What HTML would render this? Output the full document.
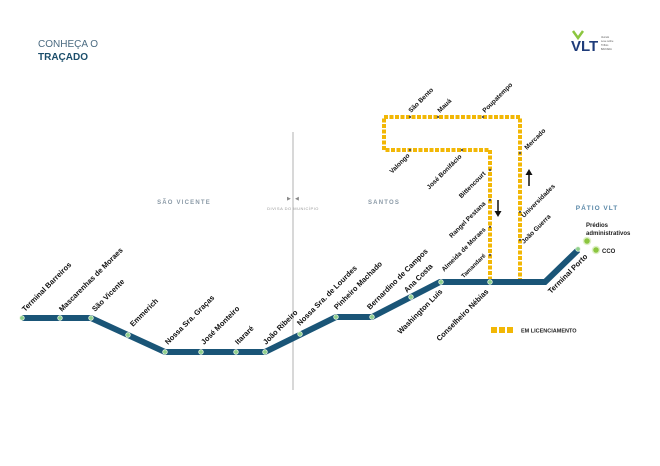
<!DOCTYPE html>
<html><head><meta charset="utf-8"><style>
html,body{margin:0;padding:0;background:#fff;}
svg{display:block;font-family:"Liberation Sans",sans-serif;}
.l{font-size:7.5px;font-weight:bold;fill:#111;}
.s{font-size:6px;font-weight:bold;fill:#222;}
</style></head><body>
<svg width="660" height="466" viewBox="0 0 660 466">
<text x="38" y="47" font-size="10" fill="#4a6a80">CONHEÇA O</text>
<text x="38" y="60" font-size="10" font-weight="bold" fill="#1b4e6b">TRAÇADO</text>
<polyline points="573,31 578,38 583,31" fill="none" stroke="#8cc63f" stroke-width="2.5"/>
<text x="571" y="51" font-size="15" font-weight="bold" fill="#1f3c7a">VLT</text>
<g fill="#555" font-size="2.5"><text x="601" y="38">Veículo</text><text x="601" y="42">Leve sobre</text><text x="601" y="46">Trilhos</text><text x="601" y="50">BAIXADA</text></g>
<line x1="293" y1="132" x2="293" y2="390" stroke="#ccc" stroke-width="1.5"/>
<text x="287" y="200" font-size="5" fill="#888">▶</text><text x="295" y="200" font-size="5" fill="#888">◀</text>
<text x="293" y="210" font-size="4" fill="#999" text-anchor="middle" letter-spacing="0.5">DIVISA DO MUNICÍPIO</text>
<text x="184" y="204" font-size="6" fill="#8a99a6" text-anchor="middle" letter-spacing="1.2" font-weight="bold">SÃO VICENTE</text>
<text x="384" y="204" font-size="6" fill="#8a99a6" text-anchor="middle" letter-spacing="1.2" font-weight="bold">SANTOS</text>
<text x="597" y="210" font-size="6.5" fill="#5a88a8" text-anchor="middle" letter-spacing="1" font-weight="bold">PÁTIO VLT</text>
<g fill="none" stroke="#f2b705" stroke-width="4" stroke-dasharray="4,1.5">
<polyline points="520,282 520,117 384,117 384,150 490,150 490,282"/>
</g>
<g fill="#555">
<circle cx="410" cy="117" r="1.2"/><circle cx="438" cy="117" r="1.2"/><circle cx="483" cy="117" r="1.2"/>
<circle cx="410" cy="150" r="1.2"/><circle cx="462" cy="150" r="1.2"/>
<circle cx="490" cy="170" r="1.2"/><circle cx="490" cy="200" r="1.2"/><circle cx="490" cy="227" r="1.2"/><circle cx="490" cy="255" r="1.2"/>
<circle cx="520" cy="153" r="1.2"/><circle cx="520" cy="212" r="1.2"/><circle cx="520" cy="240" r="1.2"/>
</g>
<line x1="498" y1="200" x2="498" y2="212" stroke="#111" stroke-width="1.5"/><polygon points="494.5,211 501.5,211 498,217" fill="#111"/>
<line x1="529" y1="174" x2="529" y2="186" stroke="#111" stroke-width="1.5"/><polygon points="525.5,175 532.5,175 529,169" fill="#111"/>
<polyline points="22,318 91,318 165,352 265,352 336,317 372,317 440,282 545,282 578,250" fill="none" stroke="#1a5577" stroke-width="6" stroke-linejoin="miter"/>
<g fill="#8ecf8c" stroke="#e8f5e0" stroke-width="0.8">
<circle cx="22" cy="318" r="2.3"/><circle cx="60" cy="318" r="2.3"/><circle cx="91" cy="318" r="2.3"/><circle cx="128" cy="335" r="2.3"/>
<circle cx="165" cy="352" r="2.3"/><circle cx="201" cy="352" r="2.3"/><circle cx="236" cy="352" r="2.3"/><circle cx="265" cy="352" r="2.3"/>
<circle cx="300" cy="334" r="2.3"/><circle cx="336" cy="317" r="2.3"/><circle cx="372" cy="317" r="2.3"/><circle cx="411" cy="297" r="2.3"/>
<circle cx="441" cy="282" r="2.3"/><circle cx="490" cy="282" r="2.3"/><circle cx="578" cy="249" r="2.3"/>
</g>
<circle cx="587" cy="241" r="3.5" fill="#8cc63f" stroke="#dff0c8" stroke-width="1.5"/>
<circle cx="596" cy="250" r="3.5" fill="#8cc63f" stroke="#dff0c8" stroke-width="1.5"/>
<text x="586" y="227" class="s">Prédios</text><text x="586" y="235" class="s">administrativos</text>
<text x="602" y="253" class="s">CCO</text>
<g class="l">
<text transform="translate(25,312) rotate(-45)">Terminal Barreiros</text>
<text transform="translate(62,312) rotate(-45)">Mascarenhas de Moraes</text>
<text transform="translate(95,312) rotate(-45)">São Vicente</text>
<text transform="translate(133,327) rotate(-45)">Emmerich</text>
<text transform="translate(168,345) rotate(-45)">Nossa Sra. Graças</text>
<text transform="translate(204,345) rotate(-45)">José Monteiro</text>
<text transform="translate(238,345) rotate(-45)">Itararé</text>
<text transform="translate(266,345) rotate(-45)">João Ribeiro</text>
<text transform="translate(300,326) rotate(-45)">Nossa Sra. de Lourdes</text>
<text transform="translate(337,310) rotate(-45)">Pinheiro Machado</text>
<text transform="translate(370,310) rotate(-45)">Bernardino de Campos</text>
<text transform="translate(407,293) rotate(-45)">Ana Costa</text>
<text transform="translate(486,230) rotate(-45)" text-anchor="end" font-size="6.5">Almeida de Moraes</text>
<text transform="translate(486,256) rotate(-45)" text-anchor="end" font-size="6">Tamandaré</text>
<text transform="translate(486,204) rotate(-45)" text-anchor="end" font-size="6.5">Rangel Pestana</text>
<text transform="translate(486,174) rotate(-45)" text-anchor="end" font-size="6.5">Bittencourt</text>
<text transform="translate(462,157) rotate(-45)" text-anchor="end" font-size="6.5">José Bonifácio</text>
<text transform="translate(410,156) rotate(-45)" text-anchor="end" font-size="6.5">Valongo</text>
<text transform="translate(411,113) rotate(-45)" font-size="6.5">São Bento</text>
<text transform="translate(440,113) rotate(-45)" font-size="6.5">Mauá</text>
<text transform="translate(485,113) rotate(-45)" font-size="6.5">Poupatempo</text>
<text transform="translate(527,150) rotate(-45)" font-size="6.5">Mercado</text>
<text transform="translate(524,218) rotate(-45)" font-size="6.5">Universidades</text>
<text transform="translate(524,244) rotate(-45)" font-size="6.5">João Guerra</text>
<text transform="translate(443,292) rotate(-45)" text-anchor="end">Washington Luís</text>
<text transform="translate(489,292) rotate(-45)" text-anchor="end">Conselheiro Nébias</text>
<text transform="translate(588,257) rotate(-45)" text-anchor="end">Terminal Porto</text>
</g>
<g fill="#f2b705"><rect x="491" y="327" width="6" height="6"/><rect x="499" y="327" width="6" height="6"/><rect x="507" y="327" width="6" height="6"/></g>
<text x="521" y="332.5" font-size="5.5" font-weight="bold" fill="#222">EM LICENCIAMENTO</text>
</svg>
</body></html>
